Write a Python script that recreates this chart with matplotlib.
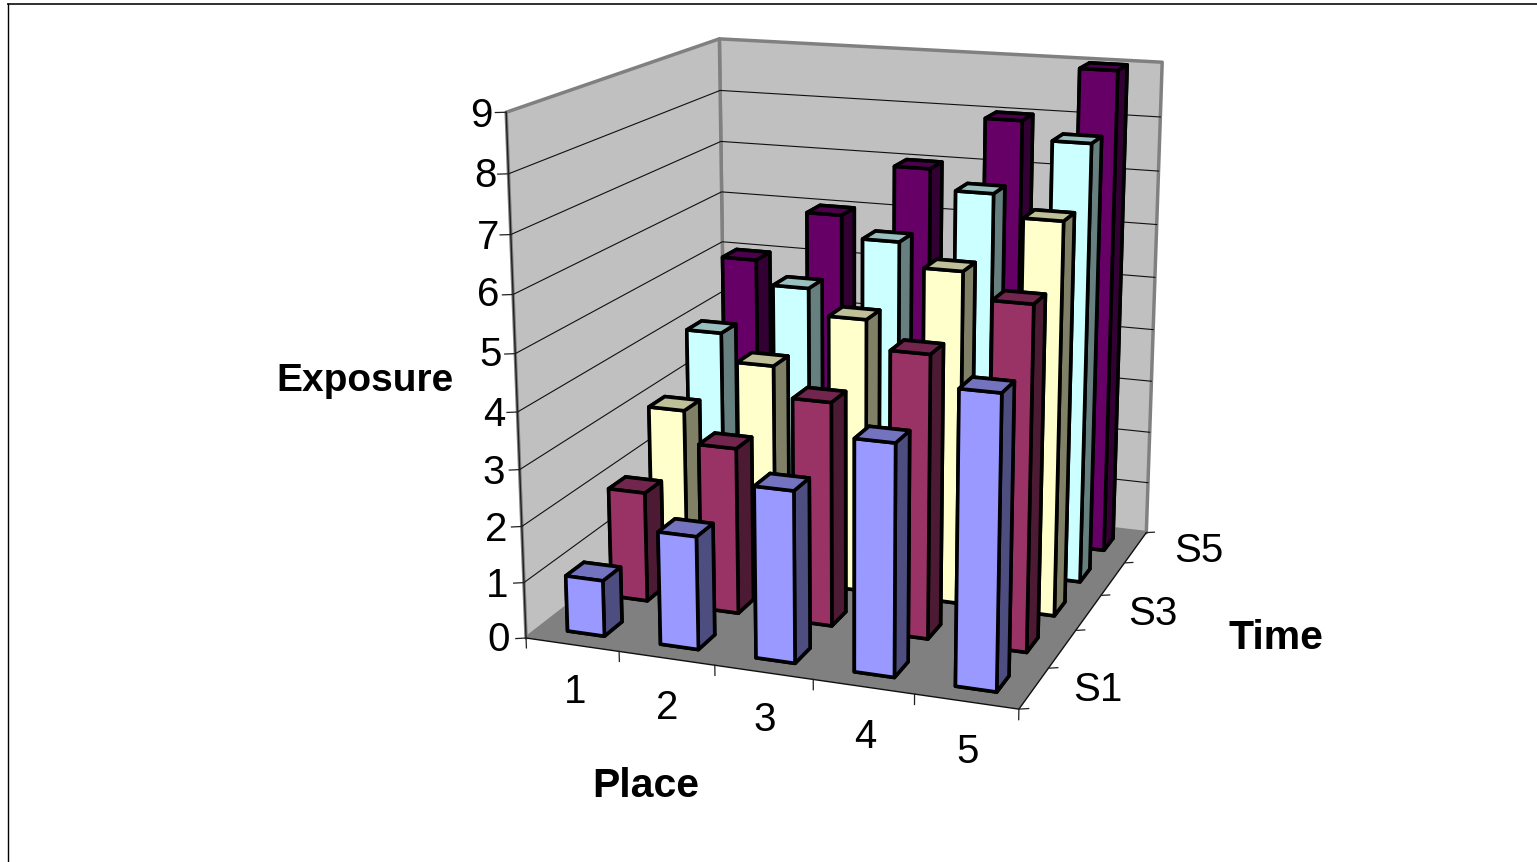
import numpy as np
import matplotlib
matplotlib.use("Agg")
import matplotlib.pyplot as plt
from matplotlib.lines import Line2D
from mpl_toolkits.mplot3d.art3d import Poly3DCollection

plt.rcParams['font.family'] = ['Liberation Sans', 'DejaVu Sans']

# Exposure by place (columns) and time series (rows, front to back)
places = [1, 2, 3, 4, 5]
s1 = [1, 2, 3, 4, 5]
s2 = [2, 3, 4, 5, 6]
s3 = [3, 4, 5, 6, 7]
s4 = [4, 5, 6, 7, 8]
s5 = [5, 6, 7, 8, 9]
series_values = [s1, s2, s3, s4, s5]
series_colors = ['#9999FF', '#993366', '#FFFFCC', '#CCFFFF', '#660066']
exposure_ticks = list(range(10))
series_ticks = ['S1', 'S3', 'S5']

FIG_W, FIG_H = 1537.4, 862.4
IMG_H = 862


def fx(px):
    return px / FIG_W


def fy(py):
    return (IMG_H - py) / FIG_H


def shaded(color, factor):
    r, g, b, _ = matplotlib.colors.to_rgba(color)
    return (r * factor, g * factor, b * factor)


fig = plt.figure(figsize=(FIG_W / 100, FIG_H / 100), dpi=100, facecolor='white')

# Camera and placement of the square 3D axes
AX_L, AX_LEFT, AX_BOTTOM = 845.757, 420.027, 86.826
ax = fig.add_axes([AX_LEFT / FIG_W, AX_BOTTOM / FIG_H, AX_L / FIG_W, AX_L / FIG_H],
                  projection='3d', computed_zorder=False)
ax.set_xlim(0, len(places), view_margin=0)
ax.set_ylim(0, len(series_values), view_margin=0)
ax.set_zlim(0, exposure_ticks[-1], view_margin=0)
ax.view_init(15.2294, -70.1771, -0.01623)
ax.set_proj_type('persp', focal_length=0.53122)
ax.set_box_aspect((1, 1.00763, 1.03797))
ax.set_axis_off()
ax.patch.set_visible(False)

nx, ny, nz = len(places), len(series_values), exposure_ticks[-1]

# Walls and floor
WALL = '#C0C0C0'
FLOOR = '#808080'
EDGE = '#808080'
walls = [
    [(0, 0, 0), (0, ny, 0), (0, ny, nz), (0, 0, nz)],
    [(0, ny, 0), (nx, ny, 0), (nx, ny, nz), (0, ny, nz)],
]
wall_poly = Poly3DCollection(walls, facecolors=WALL, edgecolors=EDGE, linewidths=2.5, zorder=1)
ax.add_collection3d(wall_poly, autolim=False)
floor_poly = Poly3DCollection([[(0, 0, 0), (nx, 0, 0), (nx, ny, 0), (0, ny, 0)]],
                              facecolors=FLOOR, edgecolors='none', zorder=2)
ax.add_collection3d(floor_poly, autolim=False)

# Horizontal gridlines on both walls
for z in exposure_ticks[1:-1]:
    ax.plot([0, 0, nx], [0, ny, ny], [z, z, z], color='#101010', lw=0.8, zorder=3)

# Axis lines and tick marks
AXC = '#202020'
ax.plot([0, 0], [0, 0], [0, nz], color=AXC, lw=1.0, zorder=4)
ax.plot([0, nx, nx], [0, 0, ny], [0, 0, 0], color='#101010', lw=1.0, zorder=4)
for z in exposure_ticks:
    ax.plot([0, -0.087], [0, -0.047], [z, z], color=AXC, lw=0.9, zorder=4)
for x in range(nx + 1):
    ax.plot([x, x], [0, 0], [0, -0.18], color=AXC, lw=0.9, zorder=4)
for y in range(ny + 1):
    ax.plot([nx, nx + 0.08], [y, y + 0.043], [0, 0], color=AXC, lw=0.9, zorder=4)

# Columns, painted from the back row forward
BAR_FILL = 0.4
offset = (1 - BAR_FILL) / 2
order = 10
for row in range(ny - 1, -1, -1):
    base = series_colors[row]
    top = shaded(base, 0.75)
    side = shaded(base, 0.5)
    # face order: bottom, top, front, back, left, right
    faces = [side, top, base, side, side, side]
    for col, value in enumerate(series_values[row]):
        ax.bar3d(col + offset, row + offset, 0, BAR_FILL, BAR_FILL, value,
                 color=faces, edgecolor='black', linewidth=2.6, shade=False,
                 zorder=order)
        order += 1

# Tick labels and axis titles
TICK_FS = 29.0
TITLE_FS = 29.5
TEXT_DROP = 2.5
z_label_pos = [(499, 637), (497, 583), (496, 527), (494, 470), (494, 412),
               (491, 352), (488, 292), (488, 235), (485, 173), (481, 113)]
for value, (px, py) in zip(exposure_ticks, z_label_pos):
    fig.text(fx(px), fy(py + TEXT_DROP), str(value), ha='center', va='center', fontsize=TICK_FS)
x_label_pos = [(575, 689), (667, 705), (765, 717), (865, 734), (968, 749)]
for value, (px, py) in zip(places, x_label_pos):
    fig.text(fx(px), fy(py + TEXT_DROP), str(value), ha='center', va='center', fontsize=TICK_FS)
s_label_pos = [(1098, 687), (1153, 611), (1199, 548)]
for name, (px, py) in zip(series_ticks, s_label_pos):
    fig.text(fx(px), fy(py + TEXT_DROP), name, ha='center', va='center', fontsize=TICK_FS)

fig.text(fx(365), fy(378 + TEXT_DROP), 'Exposure', ha='center', va='center', fontsize=28.0, fontweight='bold')
fig.text(fx(646), fy(783 + TEXT_DROP), 'Place', ha='center', va='center', fontsize=TITLE_FS, fontweight='bold')
fig.text(fx(1276), fy(635 + TEXT_DROP), 'Time', ha='center', va='center', fontsize=TITLE_FS, fontweight='bold')

# Frame along the top and left edges of the sheet
fig.add_artist(Line2D([fx(7.5), 1], [fy(4), fy(4)], color='#303030', lw=1.4, transform=fig.transFigure))
fig.add_artist(Line2D([fx(7.5), fx(7.5)], [fy(4), 0], color='black', lw=1.0, transform=fig.transFigure))

fig.savefig('out.png', dpi=100)
